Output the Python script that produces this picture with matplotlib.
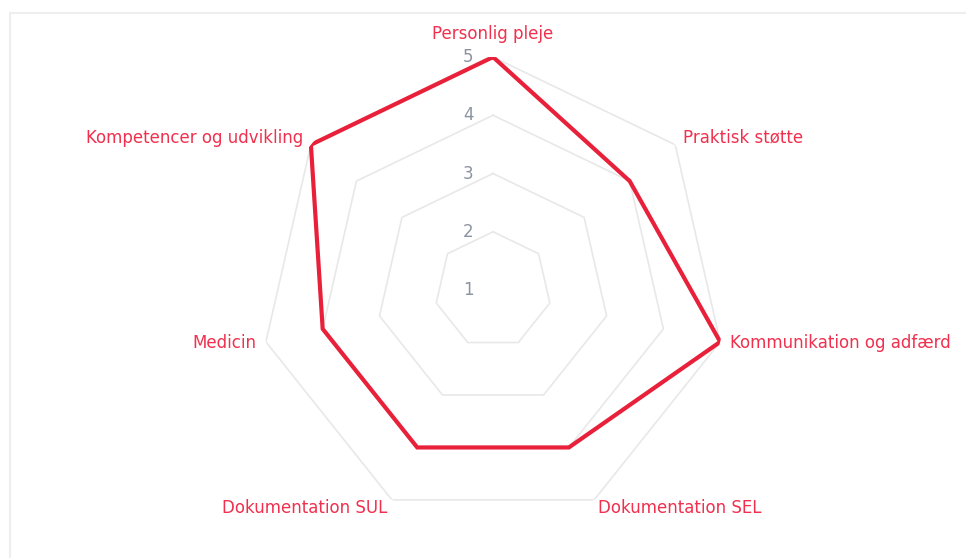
import matplotlib
matplotlib.use("Agg")
import matplotlib.pyplot as plt
import matplotlib.patches as patches
import numpy as np

# data
categories = ["Personlig pleje", "Praktisk støtte", "Kommunikation og adfærd",
              "Dokumentation SEL", "Dokumentation SUL", "Medicin",
              "Kompetencer og udvikling"]
values = [5, 4, 5, 4, 4, 4, 5]
rings = [2, 3, 4, 5]
tick_values = [1, 2, 3, 4, 5]

line_color = "#e8203a"
label_color = "#f0304e"
tick_color = "#8c93a0"
grid_color = "#e8e8e8"

plt.rcParams['font.family'] = ['DejaVu Sans']

fig = plt.figure(figsize=(9.66, 5.58), dpi=100)

# light frame around the chart area
frame = patches.Rectangle((9.5 / 966, -0.1), 1.2, 1 - 12.5 / 558 + 0.1,
                          transform=fig.transFigure, fill=False,
                          edgecolor="#eeeeee", linewidth=1.5)
fig.add_artist(frame)

ax = fig.add_axes([0.2692, 0.0627, 0.4824, 0.8351], projection="polar")
ax.set_theta_zero_location("N")
ax.set_theta_direction(-1)
ax.set_ylim(1, 5)
ax.grid(False)
ax.spines["polar"].set_visible(False)
ax.set_xticks([])
ax.set_yticks([])
ax.patch.set_alpha(0)

n = len(categories)
theta = np.arange(n) * 2 * np.pi / n
theta_closed = np.append(theta, theta[0])

# heptagon grid
for r in rings:
    ax.plot(theta_closed, [r] * (n + 1), color=grid_color, lw=1.2, zorder=1)

# data polygon
vals_closed = values + values[:1]
ax.plot(theta_closed, vals_closed, color=line_color, lw=3, zorder=3,
        solid_joinstyle="miter")

# tick labels along the top axis
for t in tick_values:
    ax.annotate(str(t), xy=(0, t), xytext=(-25, 0), textcoords="offset pixels",
                ha="center", va="center", color=tick_color, fontsize=12,
                zorder=4)

# category labels
for ang, lab in zip(theta, categories):
    s, c = np.sin(ang), np.cos(ang)
    if abs(s) < 0.05:
        ha, va, off = "center", "bottom", (0, 14)
    else:
        ha = "left" if s > 0 else "right"
        va = "center"
        off = (10 * s, 10 * c + 1)
    ax.annotate(lab, xy=(ang, 5), xytext=off, textcoords="offset pixels",
                ha=ha, va=va, color=label_color, fontsize=12,
                annotation_clip=False)

fig.savefig("out.png", dpi=100)
